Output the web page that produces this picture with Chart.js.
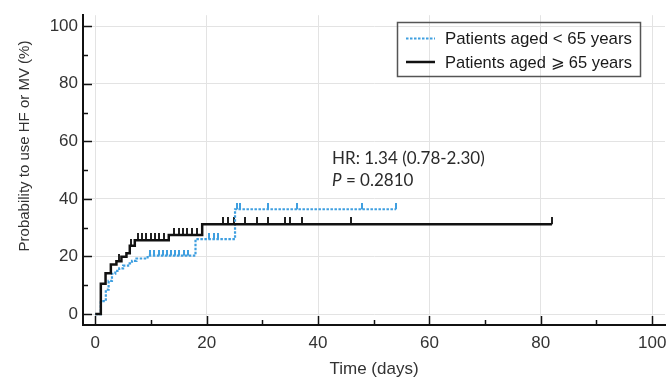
<!DOCTYPE html>
<html>
<head>
<meta charset="utf-8">
<script src="https://cdn.jsdelivr.net/npm/chart.js@4.4.0/dist/chart.umd.min.js"></script>
<style>
  body { margin: 0; background: #fff; }
</style>
</head>
<body>
<canvas id="chart" width="668" height="381"></canvas>
<script>
// KM steps: time of each event (days) and cumulative probability (%)
const youngTimes = [0, 1.0, 1.9, 2.4, 3.0, 3.6, 4.3, 5.0, 5.9, 6.6, 7.4, 9.4, 18.0, 25.1, 54];
const youngValues = [0, 4.5, 8.5, 11.5, 14.0, 15.0, 15.9, 16.8, 17.6, 18.5, 19.3, 20.3, 26.0, 36.4, 36.4];
const oldTimes = [0, 1.0, 1.85, 2.8, 3.8, 4.7, 5.6, 6.2, 7.1, 13.2, 19.2, 82];
const oldValues = [0, 10.5, 14.2, 17.2, 18.3, 19.9, 21.1, 23.7, 25.6, 27.5, 31.2, 31.2];

// censored patients (days)
const youngCensored = [9.9, 10.5, 11.4, 12.2, 12.9, 13.6, 14.4, 15.1, 15.9, 16.6, 20.5, 21.3, 22.0, 25.4, 26.0, 31.1, 36.2, 47.9, 54];
const oldCensored = [4.3, 6.5, 7.6, 8.4, 9.2, 10.0, 10.8, 11.5, 12.3, 14.1, 15.0, 15.7, 16.5, 17.4, 18.3, 23.0, 23.9, 25.0, 26.9, 29.0, 31.1, 34.1, 35.0, 37.1, 45.9, 82];

const seriesNames = ['Patients aged < 65 years', 'Patients aged ⩾ 65 years'];
const xTickLabels = [0, 20, 40, 60, 80, 100];
const yTickLabels = [0, 20, 40, 60, 80, 100];
const xTitle = 'Time (days)';
const yTitle = 'Probability to use HF or MV (%)';
const hrText = 'HR: 1.34 (0.78-2.30)';
const pText = ' = 0.2810';

const blue = '#3f9fe0';
const black = '#111111';

function levelAt(times, values, t) {
  let v = values[0];
  times.forEach((tt, i) => {
    if (tt <= t) v = values[i];
  });
  return v;
}

// small upward tick used as point style for censored marks
function censorMark(color, h) {
  const c = document.createElement('canvas');
  c.width = 2;
  c.height = h * 2;
  const g = c.getContext('2d');
  g.fillStyle = color;
  g.fillRect(0, 0, 2, h);
  return c;
}

const extras = {
  id: 'extras',
  afterDraw(chart) {
    const ctx = chart.ctx;
    const xs = chart.scales.x;
    const ys = chart.scales.y;
    const area = chart.chartArea;
    ctx.save();

    // inner tick marks
    ctx.strokeStyle = black;
    ctx.lineWidth = 1.5;
    xs.ticks.forEach(t => {
      const px = Math.round(xs.getPixelForValue(t.value)) + 0.5;
      const len = xTickLabels.includes(t.value) ? 9 : 5;
      ctx.beginPath();
      ctx.moveTo(px, area.bottom);
      ctx.lineTo(px, area.bottom - len);
      ctx.stroke();
    });
    ys.ticks.forEach(t => {
      const py = Math.round(ys.getPixelForValue(t.value)) + 0.5;
      const len = yTickLabels.includes(t.value) ? 9 : 5;
      ctx.beginPath();
      ctx.moveTo(area.left, py);
      ctx.lineTo(area.left + len, py);
      ctx.stroke();
    });

    // y axis title
    ctx.fillStyle = '#333';
    ctx.font = '15px "Liberation Sans", Arial, sans-serif';
    ctx.textAlign = 'center';
    ctx.textBaseline = 'middle';
    ctx.save();
    ctx.translate(25, 146);
    ctx.rotate(-Math.PI / 2);
    ctx.fillText(yTitle, 0, 0);
    ctx.restore();

    // legend
    ctx.strokeStyle = '#555';
    ctx.lineWidth = 1.5;
    ctx.strokeRect(397.5, 22.5, 243, 54);
    ctx.font = '17px "Liberation Sans", Arial, sans-serif';
    ctx.textAlign = 'left';
    ctx.fillStyle = '#1a1a1a';
    const rows = [
      { label: seriesNames[0], color: blue, dash: [2.5, 1.5], width: 2.2, y: 38.5 },
      { label: seriesNames[1], color: black, dash: [], width: 2.5, y: 62 }
    ];
    rows.forEach(r => {
      ctx.strokeStyle = r.color;
      ctx.lineWidth = r.width;
      ctx.setLineDash(r.dash);
      ctx.beginPath();
      ctx.moveTo(406, r.y);
      ctx.lineTo(435, r.y);
      ctx.stroke();
      ctx.setLineDash([]);
      ctx.fillText(r.label, 445, r.y + 1, 187);
    });

    // annotation
    ctx.fillStyle = '#2a2a2a';
    ctx.textBaseline = 'alphabetic';
    ctx.font = '17px Lato, "Open Sans", sans-serif';
    ctx.fillText(hrText, 332, 164);
    ctx.font = 'italic 17px Lato, "Open Sans", sans-serif';
    ctx.fillText('P', 332, 186);
    const w = ctx.measureText('P').width;
    ctx.font = '17px Lato, "Open Sans", sans-serif';
    ctx.fillText(pText, 332 + w, 186);

    ctx.restore();
  }
};

const ctx = document.getElementById('chart').getContext('2d');

new Chart(ctx, {
  type: 'line',
  data: {
    datasets: [
      {
        label: seriesNames[0],
        data: youngTimes.map((t, i) => ({ x: t, y: youngValues[i] })),
        borderColor: blue,
        borderWidth: 2.2,
        borderDash: [2.5, 1.5],
        stepped: 'before',
        pointRadius: 0,
        fill: false,
        order: 1
      },
      {
        label: seriesNames[1],
        data: oldTimes.map((t, i) => ({ x: t, y: oldValues[i] })),
        borderColor: black,
        borderWidth: 2.5,
        stepped: 'before',
        pointRadius: 0,
        fill: false,
        order: 0
      },
      {
        label: 'censored < 65',
        data: youngCensored.map(t => ({ x: t, y: levelAt(youngTimes, youngValues, t) })),
        showLine: false,
        pointStyle: censorMark(blue, 6),
        pointRadius: 3,
        order: 3
      },
      {
        label: 'censored >= 65',
        data: oldCensored.map(t => ({ x: t, y: levelAt(oldTimes, oldValues, t) })),
        showLine: false,
        pointStyle: censorMark('#222', 7),
        pointRadius: 3,
        order: 2
      }
    ]
  },
  options: {
    responsive: false,
    animation: false,
    devicePixelRatio: 1,
    layout: { autoPadding: false, padding: { top: 12, right: 3, bottom: 0, left: 0 } },
    plugins: {
      legend: { display: false },
      tooltip: { enabled: false }
    },
    scales: {
      x: {
        type: 'linear',
        min: -2.2,
        max: 102.3,
        afterFit: s => { s.height = 56; },
        border: { color: black, width: 2 },
        grid: {
          drawTicks: true,
          tickLength: 8,
          tickColor: 'rgba(0,0,0,0)',
          color: c => xTickLabels.includes(c.tick.value) ? '#e3e3e3' : 'rgba(0,0,0,0)'
        },
        ticks: {
          stepSize: 10,
          includeBounds: false,
          padding: 0,
          color: '#333',
          font: { size: 17, family: '"Liberation Sans", Arial, sans-serif' },
          maxRotation: 0,
          autoSkip: false,
          callback: v => xTickLabels.includes(v) ? v : ''
        },
        title: {
          display: true,
          text: xTitle,
          color: '#333',
          padding: { top: 4, bottom: 1 },
          font: { size: 17, family: '"Liberation Sans", Arial, sans-serif' }
        }
      },
      y: {
        type: 'linear',
        min: -3.8,
        max: 103.8,
        afterFit: s => { s.width = 83; },
        border: { color: black, width: 2 },
        grid: {
          drawTicks: false,
          color: c => yTickLabels.includes(c.tick.value) ? '#e3e3e3' : 'rgba(0,0,0,0)'
        },
        ticks: {
          stepSize: 10,
          includeBounds: false,
          padding: 5,
          color: '#333',
          font: { size: 17, family: '"Liberation Sans", Arial, sans-serif' },
          autoSkip: false,
          callback: v => yTickLabels.includes(v) ? v : ''
        }
      }
    }
  },
  plugins: [extras]
});
</script>
</body>
</html>
